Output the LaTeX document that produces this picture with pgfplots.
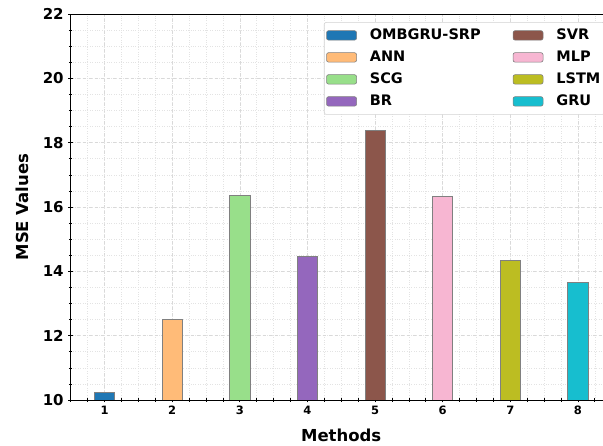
\documentclass[border=0pt]{standalone}
\usepackage{fontspec}
\setmainfont{DejaVu Sans}
\usepackage{pgfplots}
\pgfplotsset{compat=1.18}
\definecolor{c1}{HTML}{1F77B4}
\definecolor{c2}{HTML}{FFBB78}
\definecolor{c3}{HTML}{98DF8A}
\definecolor{c4}{HTML}{9467BD}
\definecolor{c5}{HTML}{8C564B}
\definecolor{c6}{HTML}{F7B6D2}
\definecolor{c7}{HTML}{BCBD22}
\definecolor{c8}{HTML}{17BECF}
\begin{document}
\begin{tikzpicture}
\useasboundingbox (-70.7pt,-46pt) rectangle (532.3pt,400pt);
\begin{axis}[
  at={(0pt,0pt)}, anchor=south west,
  scale only axis, width=541pt, height=386pt,
  xmin=0.5, xmax=8.5, ymin=10, ymax=22,
  xtick={1,...,8}, ytick={10,12,...,22},
  minor xtick={0.5,0.75,...,8.5},
  minor ytick={10,10.5,...,22},
  tick align=center, major tick length=5pt, minor tick length=3.5pt,
  xtick pos=bottom, ytick pos=left,
  tick style={black, line width=0.6pt},
  grid=both,
  major grid style={gray!30, dashed, line width=0.5pt},
  minor grid style={gray!22, dotted, line width=0.5pt},
  axis line style={black, line width=0.9pt},
  /pgf/number format/assume math mode=true,
  xticklabel style={font=\fontsize{11.5}{13}\selectfont\bfseries},
  yticklabel style={font=\fontsize{15}{16}\selectfont\bfseries, xshift=-1pt},
  xlabel={Methods}, ylabel={MSE Values},
  label style={font=\fontsize{16.5}{18}\selectfont\bfseries},
  xlabel style={at={(axis description cs:0.5,-0.092)}, anchor=center},
  ylabel style={at={(axis description cs:-0.09,0.5)}, anchor=center},
  legend columns=4, transpose legend,
  legend style={at={(rel axis cs:0.987,0.979)}, anchor=north east,
    draw=gray!35, rounded corners=2pt, line width=0.6pt,
    font=\fontsize{14.5}{16}\selectfont\bfseries,
    inner xsep=2pt, inner ysep=2pt,
    cells={anchor=west},
    nodes={text height=10.5pt, text depth=2.5pt, inner ysep=4.5pt},
    /tikz/every odd column/.append style={column sep=11pt},
    /tikz/every even column/.append style={column sep=30pt}},
  every axis plot/.append style={ybar, bar width=0.3, bar shift=0pt,
    draw=gray, line width=0.6pt,
    legend image code/.code={\draw[##1, draw=gray, line width=0.6pt] (0pt,-4.7pt) rectangle (30pt,4.7pt);}},
]
\addplot[fill=c1] coordinates {(1,10.23)}; \addlegendentry{OMBGRU-SRP}
\addplot[fill=c2] coordinates {(2,12.52)}; \addlegendentry{ANN}
\addplot[fill=c3] coordinates {(3,16.36)}; \addlegendentry{SCG}
\addplot[fill=c4] coordinates {(4,14.48)}; \addlegendentry{BR}
\addplot[fill=c5] coordinates {(5,18.39)}; \addlegendentry{SVR}
\addplot[fill=c6] coordinates {(6,16.34)}; \addlegendentry{MLP}
\addplot[fill=c7] coordinates {(7,14.35)}; \addlegendentry{LSTM}
\addplot[fill=c8] coordinates {(8,13.66)}; \addlegendentry{GRU}
\end{axis}
\end{tikzpicture}
\end{document}
